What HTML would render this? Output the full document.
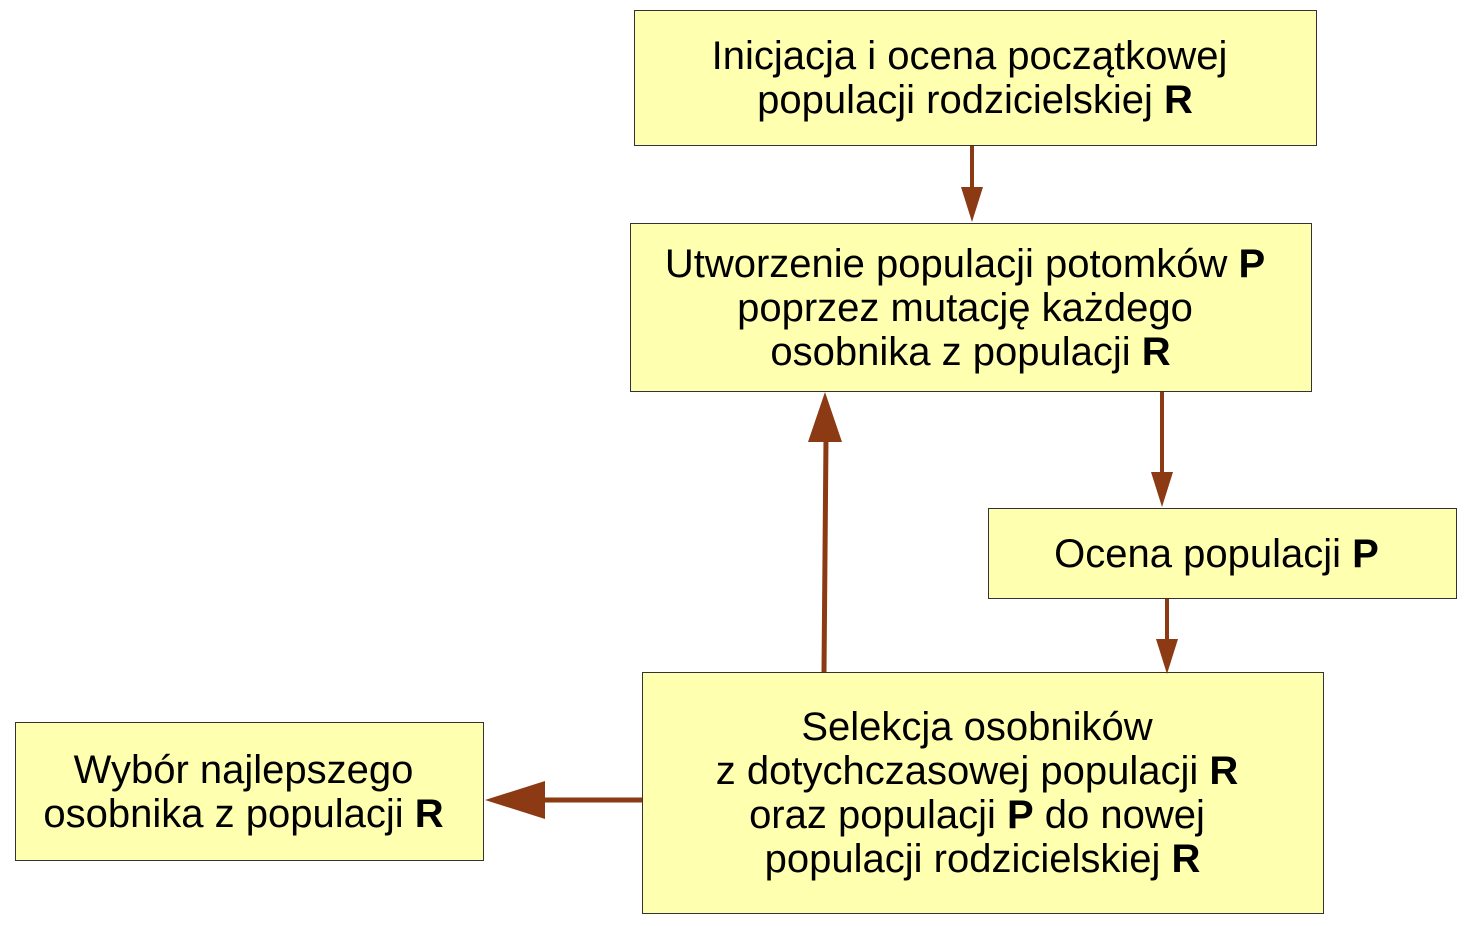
<!DOCTYPE html>
<html><head><meta charset="utf-8"><style>
body{margin:0;width:1465px;height:926px;background:#fff;position:relative;overflow:hidden;font-family:"Liberation Sans",sans-serif}
.b{position:absolute;background:#ffffb0;border:1px solid #333;box-sizing:border-box;display:flex;align-items:center;justify-content:center;color:#000}
.b>div{text-align:center;font-size:40px;line-height:44px;white-space:nowrap;transform:translateX(-6px)}
svg{position:absolute;left:0;top:0}
</style></head><body>
<div class="b" style="left:634px;top:10px;width:683px;height:136px"><div>Inicjacja i ocena początkowej<br>&nbsp;populacji rodzicielskiej <b>R</b></div></div>
<div class="b" style="left:630px;top:223px;width:682px;height:169px"><div>Utworzenie populacji potomków <b>P</b><br>poprzez mutację każdego<br>&nbsp;osobnika z populacji <b>R</b></div></div>
<div class="b" style="left:988px;top:508px;width:469px;height:91px"><div>Ocena populacji <b>P</b></div></div>
<div class="b" style="left:642px;top:672px;width:682px;height:242px"><div>Selekcja osobników<br>z dotychczasowej populacji <b>R</b><br>oraz populacji <b>P</b> do nowej<br>&nbsp;populacji rodzicielskiej <b>R</b></div></div>
<div class="b" style="left:15px;top:722px;width:469px;height:139px"><div>Wybór najlepszego<br>osobnika z populacji <b>R</b></div></div>
<svg width="1465" height="926">
<g fill="#8b3a14" stroke="#8b3a14">
<line x1="972" y1="146" x2="972" y2="190" stroke-width="4"/>
<polygon points="961,187 983,187 972,222" stroke="none"/>
<line x1="1162" y1="392" x2="1162" y2="475" stroke-width="4"/>
<polygon points="1151,472 1173,472 1162,507" stroke="none"/>
<line x1="1167" y1="599" x2="1167" y2="642" stroke-width="4"/>
<polygon points="1156,639 1178,639 1167,674" stroke="none"/>
<line x1="824" y1="672" x2="826" y2="438" stroke-width="5"/>
<polygon points="808,442 842,442 825,392" stroke="none"/>
<line x1="642" y1="800" x2="540" y2="800" stroke-width="5"/>
<polygon points="545,781 545,819 485,800" stroke="none"/>
</g>
</svg>
</body></html>
